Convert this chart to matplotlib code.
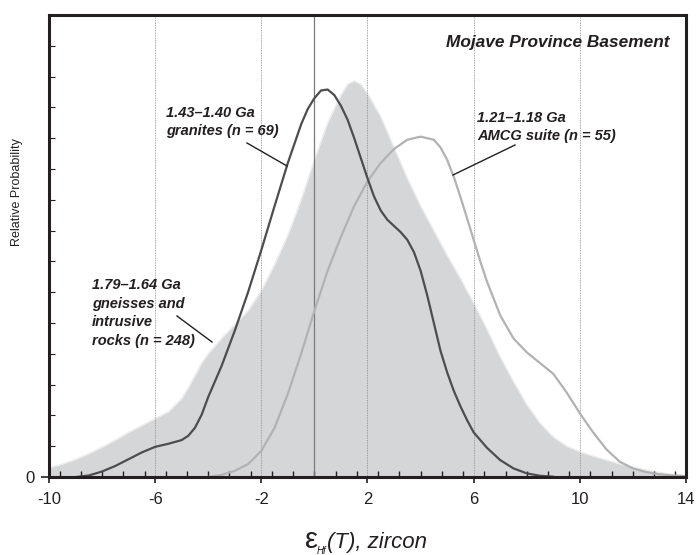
import numpy as np
import matplotlib.pyplot as plt
from matplotlib.ticker import MultipleLocator, FixedLocator

plt.rcParams['axes.unicode_minus'] = False
plt.rcParams['font.family'] = ['Liberation Sans', 'DejaVu Sans']

# epsilon Hf values (x) and relative probability (y, arbitrary units)
x_fill = [-10, -9.5, -9, -8.5, -8, -7.5, -7, -6.5, -6, -5.5, -5, -4.75, -4.5, -4.25, -4, -3.5,
          -3, -2.5, -2, -1.5, -1, -0.5, 0, 0.5, 1, 1.25, 1.5, 1.75, 2, 2.5, 3, 3.5, 4, 4.5, 5,
          5.5, 6, 6.5, 7, 7.5, 8, 8.5, 9, 9.5, 10, 10.5, 11, 11.5, 12, 12.5, 13, 13.5, 14]
gneiss = [0.30, 0.42, 0.57, 0.76, 0.97, 1.2, 1.45, 1.67, 1.9, 2.12, 2.55, 2.9, 3.3, 3.7, 4.0,
          4.5, 4.95, 5.4, 6.05, 6.9, 7.85, 9.0, 10.3, 11.5, 12.4, 12.75, 12.86, 12.75, 12.45,
          11.7, 10.7, 9.7, 8.8, 8.0, 7.2, 6.45, 5.65, 4.8, 3.9, 3.1, 2.35, 1.75, 1.3, 1.0, 0.82,
          0.68, 0.55, 0.43, 0.32, 0.23, 0.15, 0.08, 0.03]

x_gran = [-9, -8.5, -8, -7.5, -7, -6.5, -6, -5.5, -5, -4.75, -4.5, -4.25, -4, -3.5, -3, -2.5,
          -2, -1.5, -1, -0.5, -0.25, 0, 0.25, 0.5, 0.75, 1, 1.25, 1.5, 1.75, 2, 2.25, 2.5, 2.75,
          3, 3.25, 3.5, 3.75, 4, 4.25, 4.5, 4.75, 5, 5.25, 5.5, 5.75, 6, 6.5, 7, 7.5, 8, 8.5, 9]
granites = [0, 0.05, 0.18, 0.36, 0.58, 0.8, 0.98, 1.08, 1.2, 1.34, 1.6, 2.02, 2.6, 3.6, 4.75,
            6.0, 7.37, 8.8, 10.2, 11.45, 11.95, 12.3, 12.55, 12.58, 12.4, 12.05, 11.6, 11.0,
            10.35, 9.7, 9.1, 8.65, 8.35, 8.15, 7.95, 7.7, 7.3, 6.7, 5.9, 5.0, 4.1, 3.4, 2.8,
            2.3, 1.85, 1.45, 0.95, 0.55, 0.28, 0.12, 0.04, 0.01]

x_amcg = [-4, -3.5, -3, -2.5, -2, -1.5, -1, -0.5, 0, 0.5, 1, 1.5, 2, 2.5, 3, 3.5, 4, 4.5, 4.75,
          5, 5.25, 5.5, 5.75, 6, 6.25, 6.5, 7, 7.5, 8, 8.5, 9, 9.5, 10, 10.5, 11, 11.5, 12, 12.5,
          13, 13.5, 14]
amcg = [0, 0.07, 0.2, 0.42, 0.85, 1.6, 2.7, 4.0, 5.4, 6.7, 7.8, 8.8, 9.6, 10.2, 10.65, 10.95,
        11.05, 10.95, 10.7, 10.3, 9.75, 9.1, 8.4, 7.7, 7.0, 6.35, 5.25, 4.5, 4.05, 3.7, 3.35,
        2.75, 2.07, 1.45, 0.9, 0.5, 0.28, 0.16, 0.09, 0.05, 0.03]

xticks = [-10, -6, -2, 2, 6, 10, 14]
grid_x = [-6, -2, 2, 6, 10]

fig = plt.figure(figsize=(6.98, 5.55), dpi=100)
ax = fig.add_axes([0.0702, 0.1405, 0.9126, 0.8325])

ax.fill_between(x_fill, gneiss, 0, color='#d5d6d8', lw=0, zorder=1)
ax.plot(x_fill, gneiss, color='#ececec', lw=1, zorder=1.5)

for g in grid_x:
    ax.axvline(g, color='#8a8a8a', lw=0.6, ls=(0, (1, 1)), zorder=2)
ax.axvline(0, color='#7a7a7a', lw=0.9, zorder=2)

ax.plot(x_amcg, amcg, color='#b2b2b4', lw=1.6, zorder=3, solid_joinstyle='round')
ax.plot(x_gran, granites, color='#4d4d4f', lw=1.6, zorder=4, solid_joinstyle='round')

ax.set_xlim(-10, 14)
ax.set_ylim(0, 15)

ax.set_xticks(xticks)
ax.xaxis.set_minor_locator(MultipleLocator(0.8))
ax.tick_params(axis='x', which='major', direction='out', length=4, width=1.2,
               labelsize=12, pad=7, colors='#231f20')
ax.tick_params(axis='x', which='minor', direction='in', length=4, width=1, colors='#231f20')

ax.set_yticks([0])
ax.set_yticklabels(['0'])
ax.yaxis.set_minor_locator(FixedLocator(np.arange(1, 15)))
ax.tick_params(axis='y', which='major', direction='out', length=6, width=1.2,
               labelsize=12, pad=4, colors='#231f20')
ax.tick_params(axis='y', which='minor', direction='in', length=4, width=0.8, colors='#231f20')

for s in ax.spines.values():
    s.set_linewidth(2.2)
    s.set_color('#231f20')
    s.set_zorder(6)

fig.text(17 / 698, 1 - 192 / 555, 'Relative Probability', rotation=90, ha='center',
         va='center', fontsize=9, color='#231f20')

# x label: big upright epsilon, small Hf subscript, italic rest
fig.text(305 / 698, 1 - 548 / 555, 'ε', ha='left', va='baseline', fontsize=21,
         color='#231f20')
fig.text(317 / 698, 1 - 551 / 555, 'Hf', ha='left', va='center', fontsize=7,
         style='italic', color='#231f20')
fig.text(327 / 698, 1 - 548 / 555, '(T), zircon', ha='left', va='baseline', fontsize=16,
         style='italic', color='#231f20')

lab = dict(fontsize=10.5, fontweight='bold', style='italic', color='#231f20',
           va='center', ha='left', linespacing=1.45)


def px(x, y):
    return fig.transFigure.transform((x / 698, 1 - y / 555))


def note(text, x, y, **kw):
    fig.text(x / 698, 1 - y / 555, text, **{**lab, **kw})


note('Mojave Province Basement', 670, 42, ha='right', fontsize=12.4)
note('1.43–1.40 Ga\ngranites (n = 69)', 166, 122)
note('1.21–1.18 Ga\nAMCG suite (n = 55)', 477, 127)
note('1.79–1.64 Ga\ngneisses and\nintrusive\nrocks (n = 248)', 92, 313)

inv = ax.transData.inverted()
for (x0, y0), (x1, y1) in [((247, 143), (287, 166)), ((515, 145), (453, 175)),
                           ((177, 316), (212, 342))]:
    a = inv.transform(px(x0, y0))
    b = inv.transform(px(x1, y1))
    ax.plot([a[0], b[0]], [a[1], b[1]], color='#231f20', lw=1, zorder=5)

fig.savefig('out.png', dpi=100)
